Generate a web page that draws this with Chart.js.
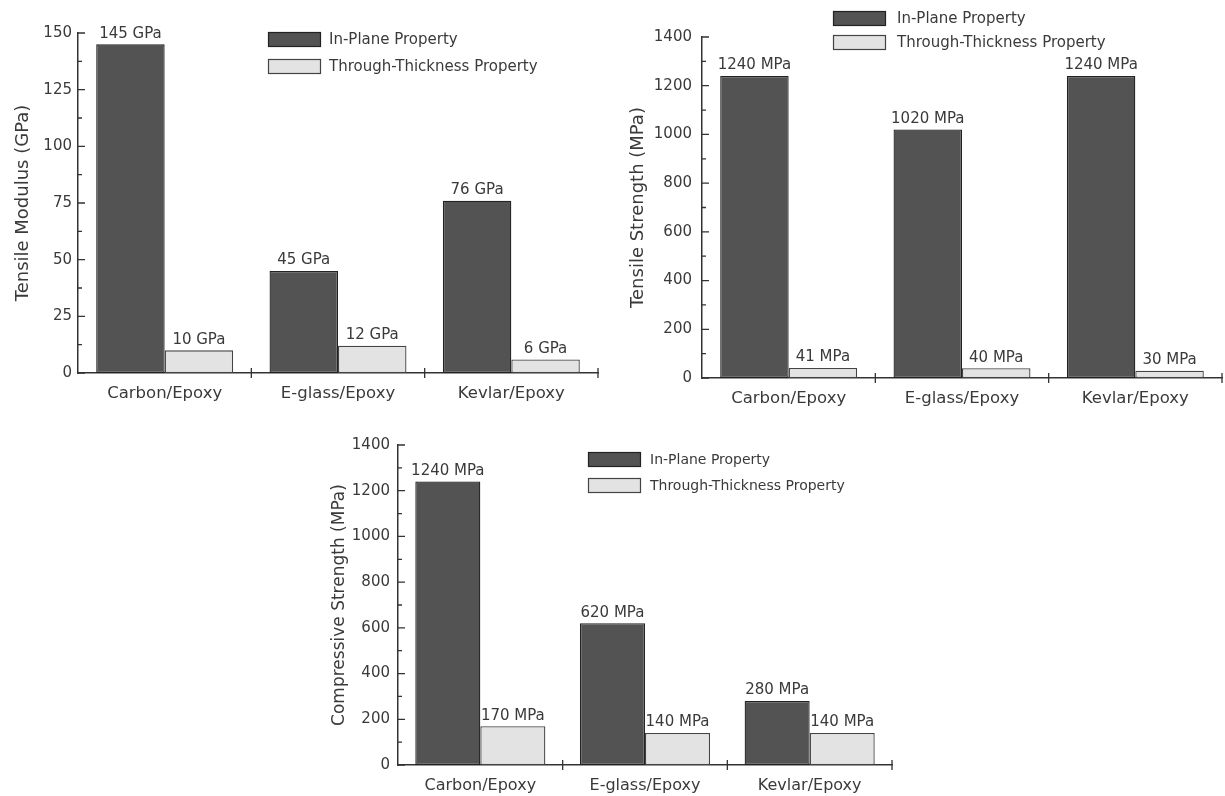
<!DOCTYPE html>
<html>
<head>
<meta charset="utf-8">
<script src="https://cdn.jsdelivr.net/npm/chart.js@4.4.1/dist/chart.umd.min.js"></script>
<style>
  body { margin: 0; background: #fff; }
  #page { position: relative; width: 1225px; height: 796px; overflow: hidden; }
  canvas { position: absolute; }
</style>
</head>
<body>
<div id="page">
  <canvas id="modulus" width="612" height="420" style="left:0px;top:0px"></canvas>
  <canvas id="tensile" width="613" height="420" style="left:612px;top:0px"></canvas>
  <canvas id="compressive" width="620" height="376" style="left:300px;top:420px"></canvas>
</div>
<script>
// values
const categories = ['Carbon/Epoxy', 'E-glass/Epoxy', 'Kevlar/Epoxy'];
const seriesNames = ['In-Plane Property', 'Through-Thickness Property'];

const modulusInPlane = [145, 45, 76];
const modulusThrough = [10, 12, 6];
const tensileInPlane = [1240, 1020, 1240];
const tensileThrough = [41, 40, 30];
const compInPlane = [1240, 620, 280];
const compThrough = [170, 140, 140];

const modulusTicks = [0, 25, 50, 75, 100, 125, 150];
const strengthTicks = [0, 200, 400, 600, 800, 1000, 1200, 1400];

const FONT = '"DejaVu Sans", sans-serif';
const INK = '#3a3a3a';
const darkFill = '#535353';
const lightFill = '#e3e3e3';

// ticks pointing inward, minor ticks, category separators, value labels, legend
const paperLook = {
  id: 'paperLook',
  afterDraw(chart, args, opts) {
    const ctx = chart.ctx;
    const xs = chart.scales.x, ys = chart.scales.y, a = chart.chartArea;
    ctx.save();
    ctx.strokeStyle = '#333';
    ctx.lineWidth = 1.3;
    ctx.beginPath();
    const t = ys.ticks;
    t.forEach((tk, i) => {
      const py = ys.getPixelForValue(tk.value);
      ctx.moveTo(a.left, py); ctx.lineTo(a.left + 7, py);
      if (i < t.length - 1) {
        const pm = ys.getPixelForValue((tk.value + t[i + 1].value) / 2);
        ctx.moveTo(a.left, pm); ctx.lineTo(a.left + 4, pm);
      }
    });
    const n = chart.data.labels.length;
    for (let i = 1; i <= n; i++) {
      const px = i < n ? (xs.getPixelForValue(i - 1) + xs.getPixelForValue(i)) / 2 : a.right;
      ctx.moveTo(px, a.bottom - 5); ctx.lineTo(px, a.bottom + 5);
    }
    ctx.stroke();

    // value labels above bars
    ctx.fillStyle = INK;
    ctx.font = opts.valueSize + 'px ' + FONT;
    ctx.textAlign = 'center';
    ctx.textBaseline = 'bottom';
    chart.data.datasets.forEach((ds, di) => {
      chart.getDatasetMeta(di).data.forEach((bar, i) => {
        ctx.fillText(ds.data[i] + ' ' + opts.unit, bar.x, bar.y - 3);
      });
    });

    // legend
    const lg = opts.legend;
    ctx.font = lg.size + 'px ' + FONT;
    ctx.textAlign = 'left';
    ctx.textBaseline = 'middle';
    chart.data.datasets.forEach((ds, di) => {
      const by = lg.y + di * lg.gap;
      ctx.fillStyle = ds.backgroundColor;
      ctx.fillRect(lg.x, by, 53, 15);
      ctx.strokeStyle = ds.borderColor;
      ctx.lineWidth = 1.2;
      ctx.strokeRect(lg.x + 0.5, by + 0.5, 52, 14);
      ctx.fillStyle = INK;
      ctx.fillText(ds.label, lg.x + lg.textDx, by + 8);
    });
    ctx.restore();
  }
};

function makeChart(id, inPlane, through, unit, yTitle, yTicks, lay) {
  return new Chart(document.getElementById(id), {
    type: 'bar',
    data: {
      labels: categories,
      datasets: [{
        label: seriesNames[0],
        data: inPlane,
        backgroundColor: darkFill,
        borderColor: '#222',
        borderWidth: 1.3,
        borderSkipped: false
      },
      {
        label: seriesNames[1],
        data: through,
        backgroundColor: lightFill,
        borderColor: '#444',
        borderWidth: 1.3,
        borderSkipped: false
      }]
    },
    options: {
      responsive: false,
      animation: false,
      events: [],
      categoryPercentage: 0.79,
      barPercentage: 1.0,
      layout: { padding: { left: 0, top: lay.top, right: lay.right, bottom: 0 } },
      plugins: {
        legend: { display: false },
        tooltip: { enabled: false },
        paperLook: { unit: unit, valueSize: lay.valueSize, legend: lay.legend }
      },
      scales: {
        x: {
          grid: { display: false, drawTicks: false },
          border: { display: true, color: '#333', width: 1.5 },
          ticks: { color: INK, font: { family: FONT, size: lay.xSize }, padding: 11, maxRotation: 0 },
          afterFit: s => { s.height = lay.xHeight; }
        },
        y: {
          min: yTicks[0],
          max: yTicks[yTicks.length - 1],
          afterBuildTicks: s => { s.ticks = yTicks.map(v => ({ value: v })); },
          grid: { display: false, drawTicks: false },
          border: { display: true, color: '#333', width: 1.5 },
          ticks: {
            color: INK,
            font: { family: FONT, size: 15 },
            padding: lay.tickGap,
            callback: v => String(v)
          },
          title: {
            display: true,
            text: yTitle,
            color: INK,
            font: { family: FONT, size: lay.titleSize },
            padding: { top: lay.titlePad, bottom: 0 }
          },
          afterFit: s => { s.width = lay.yWidth; }
        }
      }
    },
    plugins: [paperLook]
  });
}

makeChart('modulus', modulusInPlane, modulusThrough, 'GPa', 'Tensile Modulus (GPa)', modulusTicks, {
  top: 33, right: 14, xHeight: 47, yWidth: 78, tickGap: 6, titlePad: 13, titleSize: 18,
  xSize: 16.5, valueSize: 15,
  legend: { x: 268, y: 32, gap: 27, size: 15, textDx: 61 }
});

makeChart('tensile', tensileInPlane, tensileThrough, 'MPa', 'Tensile Strength (MPa)', strengthTicks, {
  top: 37, right: 3, xHeight: 42, yWidth: 90, tickGap: 10, titlePad: 16, titleSize: 18,
  xSize: 16.5, valueSize: 15,
  legend: { x: 221, y: 11, gap: 24, size: 15, textDx: 64 }
});

makeChart('compressive', compInPlane, compThrough, 'MPa', 'Compressive Strength (MPa)', strengthTicks, {
  top: 25, right: 28, xHeight: 31, yWidth: 98, tickGap: 8, titlePad: 29, titleSize: 17,
  xSize: 16, valueSize: 15,
  legend: { x: 288, y: 32, gap: 26, size: 14, textDx: 62 }
});
</script>
</body>
</html>
